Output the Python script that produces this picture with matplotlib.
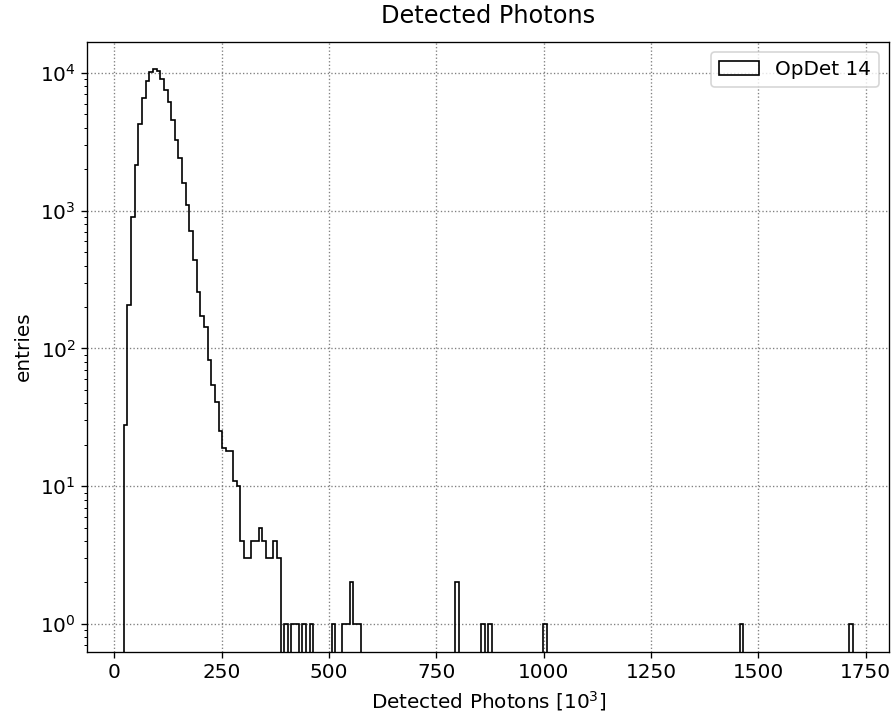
import numpy as np
import matplotlib
matplotlib.use("Agg")
import matplotlib.pyplot as plt

# Histogram binning (in 10^3 detected photons)
bin_lo = 22.0
bin_hi = 1720.0
n_bins = 200

# Entries per bin
counts = [
    28, 208, 894, 2150, 4270, 6580, 8690, 10100, 10620, 10270,
    9100, 7490, 6120, 4530, 3280, 2420, 1590, 1100, 707, 441,
    257, 171, 144, 82, 54, 41, 25, 19, 18, 18,
    11, 10, 4, 3, 3, 4, 4, 5, 4, 3,
    3, 4, 3, 0, 1, 0, 1, 1, 0, 1,
    0, 1, 0, 0, 0, 0, 0, 1, 0, 0,
    1, 1, 2, 1, 1, 0, 0, 0, 0, 0,
    0, 0, 0, 0, 0, 0, 0, 0, 0, 0,
    0, 0, 0, 0, 0, 0, 0, 0, 0, 0,
    0, 2, 0, 0, 0, 0, 0, 0, 1, 0,
    1, 0, 0, 0, 0, 0, 0, 0, 0, 0,
    0, 0, 0, 0, 0, 1, 0, 0, 0, 0,
    0, 0, 0, 0, 0, 0, 0, 0, 0, 0,
    0, 0, 0, 0, 0, 0, 0, 0, 0, 0,
    0, 0, 0, 0, 0, 0, 0, 0, 0, 0,
    0, 0, 0, 0, 0, 0, 0, 0, 0, 0,
    0, 0, 0, 0, 0, 0, 0, 0, 0, 1,
    0, 0, 0, 0, 0, 0, 0, 0, 0, 0,
    0, 0, 0, 0, 0, 0, 0, 0, 0, 0,
    0, 0, 0, 0, 0, 0, 0, 0, 0, 1,
]

xticks = [0, 250, 500, 750, 1000, 1250, 1500, 1750]
label = "OpDet 14"

edges = np.linspace(bin_lo, bin_hi, n_bins + 1)
centers = 0.5 * (edges[:-1] + edges[1:])

plt.rcParams["font.family"] = ["DejaVu Sans"]
plt.rcParams["font.size"] = 12

DPI = 120
fig = plt.figure(figsize=(894 / DPI, 720 / DPI), dpi=DPI)
ax = fig.add_axes([0.0977, 0.0949, 0.897, 0.8472])

ax.hist(centers, bins=edges, weights=counts, histtype="step", log=True,
        color="black", linewidth=1.0, label=label)

ax.set_xticks(xticks)
ax.grid(True, which="major", linestyle=":", color="gray", linewidth=0.8)
ax.set_axisbelow(True)
ax.set_title("Detected Photons", fontsize=14.4, pad=11)
ax.set_xlabel(r"Detected Photons [$10^3$]", fontsize=12)
ax.set_ylabel("entries", fontsize=12)
ax.tick_params(labelsize=12)
ax.legend(loc="upper right", fontsize=12)

fig.savefig("out.png", dpi=DPI)
